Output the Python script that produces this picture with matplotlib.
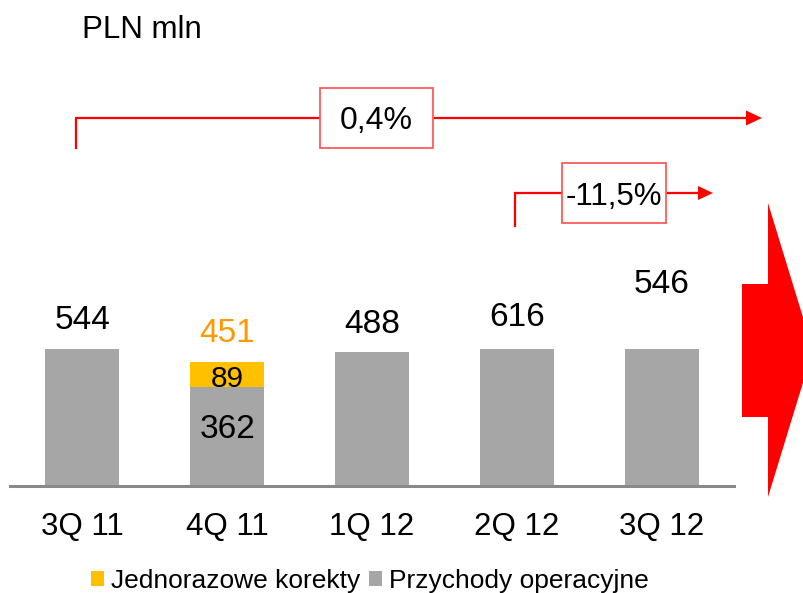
import matplotlib
matplotlib.use("Agg")
import matplotlib.pyplot as plt
from matplotlib.patches import Rectangle, Polygon, Patch

# ---------------------------------------------------------------------------
# Data
# ---------------------------------------------------------------------------
quarters = ["3Q 11", "4Q 11", "1Q 12", "2Q 12", "3Q 12"]
revenue = [544, 362, 488, 616, 546]          # Przychody operacyjne
one_off = [0, 89, 0, 0, 0]                   # Jednorazowe korekty
total_4q11 = 451
# the source slide is not drawn to scale: bar heights as they appear
revenue_drawn = [548, 396, 536, 548, 548]
one_off_drawn = [0, 100, 0, 0, 0]
change_year = "0,4%"
change_quarter = "-11,5%"

GREY = "#A6A6A6"
YELLOW = "#FFC000"
ORANGE = "#FF9900"
RED = "#FF0000"
BOX_RED = "#FF5A5A"
FONT = "Liberation Sans"

W, H = 804, 593
plt.rcParams["font.family"] = [FONT, "DejaVu Sans"]

fig = plt.figure(figsize=(W / 100, H / 100), dpi=100)

# bar axes: baseline at y=486 px, 4 units per pixel
base_px, top_px = 486, 200
ax = fig.add_axes([10 / W, (H - base_px) / H, 724 / W, (base_px - top_px) / H])
ax.set_xlim(-0.5, 4.5)
ax.set_ylim(0, (base_px - top_px) * 4)

x = list(range(len(quarters)))
ax.bar(x, revenue_drawn, width=0.51, color=GREY, zorder=2)
ax.bar(x, one_off_drawn, bottom=revenue_drawn, width=0.51, color=YELLOW, zorder=2)

for s in ["top", "right", "left"]:
    ax.spines[s].set_visible(False)
ax.spines["bottom"].set_color("#898989")
ax.spines["bottom"].set_linewidth(2.2)
ax.set_yticks([])
ax.set_xticks(x)
ax.set_xticklabels(quarters, fontsize=22.5)
ax.tick_params(axis="x", length=0, pad=19)
ax.patch.set_alpha(0)

# value labels (baselines in axis units)
label_y = [628, 192, 612, 640, 772]
for i, (v, y) in enumerate(zip(revenue, label_y)):
    ax.text(i, y, str(v), ha="center", va="baseline", fontsize=24, color="black", zorder=3)
ax.text(1, 396, str(one_off[1]), ha="center", va="baseline", fontsize=21.5, color="black", zorder=3)
ax.text(1, 576, str(total_4q11), ha="center", va="baseline", fontsize=24, color=ORANGE, zorder=3)

# overlay in pixel coordinates for the decorations
ov = fig.add_axes([0, 0, 1, 1])
ov.set_xlim(0, W)
ov.set_ylim(H, 0)
ov.axis("off")
ov.patch.set_alpha(0)

ov.text(82, 38, "PLN mln", fontsize=22.5, ha="left", va="baseline")

# year-on-year bracket arrow
ov.plot([76, 76, 746], [148, 118, 118], color=RED, lw=1.6, solid_joinstyle="miter")
ov.add_patch(Polygon([(746, 110.5), (762, 118), (746, 125.5)], closed=True, color=RED, lw=0))
ov.add_patch(Rectangle((320, 88), 113, 60, facecolor="white", edgecolor=BOX_RED, lw=1.3, zorder=3))
ov.text(376.5, 129, change_year, fontsize=23, ha="center", va="baseline", zorder=4)

# quarter-on-quarter bracket arrow
ov.plot([515, 515, 698], [226, 193, 193], color=RED, lw=1.6, solid_joinstyle="miter")
ov.add_patch(Polygon([(698, 186), (713, 193), (698, 200)], closed=True, color=RED, lw=0))
ov.add_patch(Rectangle((562, 163), 104, 60, facecolor="white", edgecolor=BOX_RED, lw=1.3, zorder=3))
ov.text(614, 205, change_quarter, fontsize=22.5, ha="center", va="baseline", zorder=4)

# big red arrow on the right
ov.add_patch(Polygon([(742, 284), (768, 284), (768, 203), (813, 350),
                      (768, 497), (768, 417), (742, 417)],
                     closed=True, color=RED, lw=0, clip_on=False))

handles = [Patch(facecolor=YELLOW, edgecolor="none", label="Jednorazowe korekty"),
           Patch(facecolor=GREY, edgecolor="none", label="Przychody operacyjne")]
fig.legend(handles=handles, loc="center left", bbox_to_anchor=(91 / W, 12 / H),
           ncol=2, frameon=False, fontsize=19, handlelength=0.5, handleheight=0.5,
           handletextpad=0.25, columnspacing=0.35, borderpad=0, borderaxespad=0)

fig.savefig("out.png", dpi=100)
